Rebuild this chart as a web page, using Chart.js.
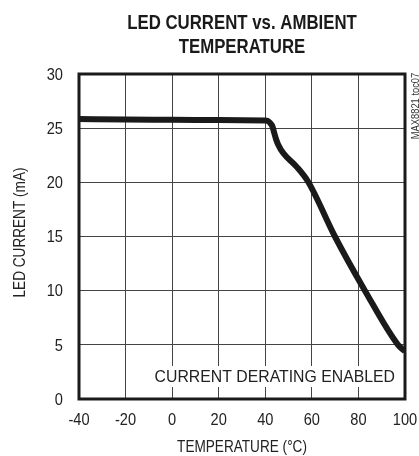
<!DOCTYPE html>
<html>
<head>
<meta charset="utf-8">
<script src="https://cdn.jsdelivr.net/npm/chart.js@4/dist/chart.umd.min.js"></script>
<style>
  html, body { margin: 0; padding: 0; background: #fff; }
</style>
</head>
<body>
<canvas id="myChart" width="419" height="456"></canvas>
<script>
// temperature (°C) along the x-axis
var temps = [-40, -20, 0, 20, 40, 41, 42, 43, 43.8, 44.6, 45.5, 47.7, 53.4, 58.4, 69.9, 82.8, 97, 100];
// LED current (mA)
var current = [25.85, 25.8, 25.78, 25.75, 25.7, 25.68, 25.5, 25.2, 24.6, 24.0, 23.5, 22.7, 21.45, 20.05, 15, 10, 5, 4.4];

var xTicks = [-40, -20, 0, 20, 40, 60, 80, 100];
var yTicks = [0, 5, 10, 15, 20, 25, 30];

var titleLines = ['LED CURRENT vs. AMBIENT', 'TEMPERATURE'];
var xTitle = 'TEMPERATURE (°C)';
var yTitle = 'LED CURRENT (mA)';
var note = 'CURRENT DERATING ENABLED';
var tocLabel = 'MAX8821 toc07';

var FONT = "'Liberation Sans', Arial, sans-serif";
var INK = '#222';

var points = temps.map(function (t, i) { return { x: t, y: current[i] }; });

// condensed-looking text: squeeze glyphs horizontally
function label(ctx, text, x, y, o) {
  ctx.save();
  ctx.translate(x, y);
  if (o.rotate) ctx.rotate(o.rotate);
  ctx.scale(o.sx || 1, 1);
  ctx.font = o.font;
  ctx.fillStyle = o.color || INK;
  ctx.textAlign = o.align || 'center';
  ctx.textBaseline = 'middle';
  ctx.fillText(text, 0, 0);
  ctx.restore();
}

var extras = {
  id: 'extras',
  beforeDatasetsDraw: function (chart) {
    var ctx = chart.ctx, a = chart.chartArea;
    // white box behind the note
    ctx.save();
    ctx.fillStyle = '#fff';
    ctx.fillRect(a.left + 62, a.bottom - 33, a.right - a.left - 62, 21);
    ctx.restore();
    label(ctx, note, a.right - 10, a.bottom - 22, { font: '17px ' + FONT, sx: 0.93, align: 'right' });
  },
  afterDatasetsDraw: function (chart) {
    var ctx = chart.ctx, a = chart.chartArea;
    var xs = chart.scales.x, ys = chart.scales.y;
    ctx.save();
    ctx.strokeStyle = '#1a1a1a';
    ctx.lineWidth = 3;
    ctx.strokeRect(a.left, a.top, a.right - a.left, a.bottom - a.top);
    ctx.restore();

    var tickFont = '17px ' + FONT;
    xTicks.forEach(function (v) {
      label(ctx, String(v), xs.getPixelForValue(v), a.bottom + 21, { font: tickFont, sx: 0.86 });
    });
    yTicks.forEach(function (v) {
      label(ctx, String(v), a.left - 16, ys.getPixelForValue(v) + 1, { font: tickFont, sx: 0.86, align: 'right' });
    });

    var mid = (a.left + a.right) / 2;
    label(ctx, xTitle, mid, a.bottom + 48, { font: '17px ' + FONT, sx: 0.8 });
    label(ctx, yTitle, 20, (a.top + a.bottom) / 2 - 4, { font: '17px ' + FONT, sx: 0.8, rotate: -Math.PI / 2 });

    label(ctx, titleLines[0], mid, 23, { font: 'bold 21px ' + FONT, sx: 0.8, color: '#1a1a1a' });
    label(ctx, titleLines[1], mid, 47, { font: 'bold 21px ' + FONT, sx: 0.8, color: '#1a1a1a' });

    label(ctx, tocLabel, a.right + 11, a.top + 32, { font: '11px ' + FONT, sx: 0.85, color: '#333', rotate: -Math.PI / 2 });
  }
};

var ctx = document.getElementById('myChart');
var myChart = new Chart(ctx, {
  type: 'line',
  data: {
    datasets: [{
      data: points,
      borderColor: '#1a1a1a',
      borderWidth: 6,
      borderJoinStyle: 'round',
      pointRadius: 0,
      fill: false,
      cubicInterpolationMode: 'monotone'
    }]
  },
  options: {
    responsive: false,
    animation: false,
    layout: { padding: { top: 74, right: 14, bottom: 0, left: 0 } },
    plugins: {
      legend: { display: false },
      tooltip: { enabled: false },
      title: { display: false }
    },
    scales: {
      x: {
        type: 'linear',
        min: -40,
        max: 100,
        afterBuildTicks: function (s) { s.ticks = xTicks.map(function (v) { return { value: v }; }); },
        afterFit: function (s) { s.height = 57; },
        grid: { color: '#444', lineWidth: 1, drawTicks: false },
        border: { display: false },
        ticks: { display: false }
      },
      y: {
        min: 0,
        max: 30,
        afterBuildTicks: function (s) { s.ticks = yTicks.map(function (v) { return { value: v }; }); },
        afterFit: function (s) { s.width = 79; },
        grid: { color: '#444', lineWidth: 1, drawTicks: false },
        border: { display: false },
        ticks: { display: false }
      }
    }
  },
  plugins: [extras]
});
</script>
</body>
</html>
